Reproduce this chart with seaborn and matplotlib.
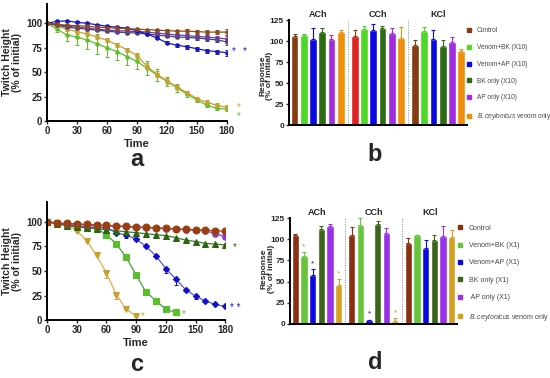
import numpy as np
import pandas as pd
import matplotlib
matplotlib.use("Agg")
import matplotlib.pyplot as plt
from matplotlib.lines import Line2D
from matplotlib.container import BarContainer
import seaborn as sns

sns.set_theme(style="white")
plt.rcParams['font.family'] = ['Liberation Sans', 'DejaVu Sans']
plt.rcParams['mathtext.fontset'] = 'custom'
plt.rcParams['mathtext.it'] = 'Liberation Sans:italic'
plt.rcParams['mathtext.rm'] = 'Liberation Sans'

# ---------------- data ----------------
time = [0, 10, 20, 30, 40, 50, 60, 70, 80, 90, 100, 110, 120, 130, 140, 150, 160, 170, 180]

# panel a (X10)
a_control = [100, 99, 98, 97.5, 97, 96, 95.5, 95, 94.5, 94, 93.5, 93, 92.5, 92, 92, 91.5, 91, 91, 91]
a_ap_only = [100, 99, 97, 96, 95, 94, 93, 92.5, 92, 91.5, 91, 90, 89, 88, 87.5, 86.5, 86, 85, 84]
a_bk_only = [100, 98, 96, 95, 94, 93, 92, 91, 90.5, 90, 89, 88, 87, 86, 85.5, 85, 84, 83, 81]
a_venom_ap = [100, 102, 102.5, 101, 100, 98.5, 97, 96, 95, 92.5, 89, 85, 80, 77.5, 76, 74, 72, 71, 70]
a_venom_bk = [100, 94, 88, 86, 83, 79, 75, 71, 66, 61, 54, 47, 40.5, 34, 27.5, 21.5, 16, 13, 12]
a_venom_bk_err = [0, 3, 6, 8, 9, 10, 10, 9, 9, 8, 7, 6, 5, 4, 3, 2, 2, 2, 2]
a_venom_only = [100, 97, 94, 91.5, 89, 86, 82.5, 78, 73, 67, 56, 48, 41, 35, 29, 23, 19, 16, 14]
a_venom_only_err = [0, 1, 2, 2, 2, 2, 2, 2, 2, 3, 3, 3, 3, 2, 2, 2, 2, 2, 2]
a_small_err = [0, 1, 1, 1, 1, 1, 1, 1, 1, 1, 1, 1, 1.5, 1.5, 2, 2, 2, 2, 3]

# panel c (X1)
c_control = [100, 99, 98.5, 98, 97.5, 97, 96.5, 96, 95.5, 95, 94.5, 94, 93.5, 93, 92.5, 92, 91.5, 91, 90.5]
c_ap_only = [100, 99, 98, 97.5, 97, 96.5, 96, 95.5, 95, 94.5, 94, 93.5, 93, 92.5, 92, 91.5, 91, 88, 85]
c_bk_only = [100, 98, 96, 95, 94, 93, 92, 91, 90, 89, 88, 87, 86, 84, 81.5, 80, 78, 77.5, 76.5]
c_venom_ap = [100, 98.5, 97, 96, 95, 94.5, 94, 89, 86.5, 82.5, 75, 65.5, 52.5, 42, 31, 24.5, 19.5, 16, 14]
c_venom_ap_err = [0, 0, 0, 0, 0, 0, 0, 1, 2.5, 1, 1, 1.5, 4, 6, 1, 3, 1, 1, 1]
c_venom_bk = [100, 98.5, 96.5, 95, 94.5, 93.5, 87, 77.5, 64, 46, 28.5, 20, 11, 8]
c_venom_bk_err = [0, 0, 0, 1, 1, 1, 1, 1, 1, 1, 3, 1, 1, 1]
c_venom_only = [100, 99, 97, 91, 81, 66, 48, 26, 11, 4.5]
c_venom_only_err = [0, 0, 0, 1, 1, 1, 5, 4, 1, 1]

# bar panels
groups = ["ACh", "CCh", "KCl"]
b_labels = ["Control", "Venom+BK (X10)", "Venom+AP (X10)", "BK only (X10)", "AP only (X10)",
            r"$\mathit{B.ceylonicus}$ venom only"]
d_labels = ["Control", "Venom+BK (X1)", "Venom+AP (X1)", "BK only (X1)", " AP only (X1)",
            r"$\mathit{B.ceylonicus}$ venom only"]
# values[treatment][group]
b_values = [[106, 105.6, 95.7], [107.6, 114, 112.3], [102.8, 113.5, 102.8],
            [110.8, 115.5, 94], [102.8, 110, 98.5], [110.8, 103.6, 87.8]]
b_errors = [[2.5, 8, 6], [1, 3.5, 4.4], [12.7, 7, 10], [4.7, 2.5, 7.7], [4, 6, 6.3], [2, 13, 2.2]]
d_values = [[105.3, 105.3, 95.4], [79.7, 116.3, 104.5], [58, 4.7, 89.5],
            [112, 118, 99.4], [116, 108, 104], [45.7, 3.5, 103]]
d_errors = [[1.5, 8.7, 5.6], [4.7, 8.7, 0.8], [7, 0.5, 10], [4, 3, 5.9], [2.5, 5, 12], [7, 3.2, 8]]
d_stars = [[False, False, False], [True, False, False], [True, True, False],
           [False, False, False], [False, False, False], [True, True, False]]

col_b = ["#843c12", "#4ed62a", "#0a0ae0", "#2d6a14", "#a02ce0", "#ee8e0b"]
col_d = ["#8a3010", "#66c43a", "#0a0ae0", "#3b6418", "#9a30e8", "#d4a020"]

fig = plt.figure(figsize=(5.5, 3.78), dpi=100)


def style_line_axes(ax):
    ax.set_xlim(0, 180)
    ax.set_ylim(0, 120)
    ax.set_xticks([0, 30, 60, 90, 120, 150, 180])
    ax.set_yticks([0, 25, 50, 75, 100])
    for s in ["top", "right"]:
        ax.spines[s].set_visible(False)
    for s in ["left", "bottom"]:
        ax.spines[s].set_color("black")
        ax.spines[s].set_linewidth(1.4)
    ax.tick_params(axis="both", labelsize=7, length=2.5, width=1, pad=1, direction="out",
                   left=True, bottom=True)
    for lab in ax.get_xticklabels() + ax.get_yticklabels():
        lab.set_fontweight("bold")
    ax.set_xlabel("Time", fontsize=8, fontweight="bold", labelpad=2)
    ax.set_ylabel("Twitch Height\n(% of initial)", fontsize=7.5, fontweight="bold", labelpad=3,
                  linespacing=1.0)
    ax.set_facecolor("white")


def series(ax, x, y, color, marker, ms, err=None, lcolor=None, lower=True, upper=True):
    sns.lineplot(x=x, y=y, ax=ax, color=lcolor or color, marker=marker, markersize=ms,
                 markerfacecolor=color, markeredgecolor=color, linewidth=0.9, legend=False,
                 errorbar=None)
    if err is not None:
        e = np.array(err, dtype=float)
        lo = e if lower else np.zeros_like(e)
        hi = e if upper else np.zeros_like(e)
        ax.errorbar(x, y, yerr=[lo, hi], fmt="none", ecolor=color, elinewidth=0.7,
                    capsize=1.5, capthick=0.7)


# ---------------- panel a ----------------
axa = fig.add_axes([0.0855, 0.680, 0.327, 0.310])
series(axa, time, a_venom_bk, "#5cbf2a", "o", 2.5, a_venom_bk_err)
series(axa, time, a_venom_only, "#c9a030", "o", 2.5, a_venom_only_err)
series(axa, time, a_bk_only, "#3c4a5e", "o", 2.5, a_small_err)
series(axa, time, a_ap_only, "#6b3aa8", "o", 2.5, a_small_err)
series(axa, time, a_venom_ap, "#1818c8", "o", 2.5, a_small_err)
series(axa, time, a_control, "#8e4a18", "o", 2.5, a_small_err)
style_line_axes(axa)
axa.text(187, 72, "*", color="#1818c8", fontsize=7, ha="center", va="center", clip_on=False)
axa.text(198, 72, "*", color="#1818c8", fontsize=7, ha="center", va="center", clip_on=False)
axa.text(192, 14, "*", color="#c9a030", fontsize=7, ha="center", va="center", clip_on=False)
axa.text(192, 5, "*", color="#5cbf2a", fontsize=7, ha="center", va="center", clip_on=False)

# ---------------- panel c ----------------
axc = fig.add_axes([0.0855, 0.153, 0.324, 0.312])
series(axc, time[:10], c_venom_only, "#c9a030", "v", 4.5, c_venom_only_err, lcolor="#d8b050",
       upper=False)
series(axc, time[:14], c_venom_bk, "#58c02c", "s", 5, c_venom_bk_err, lcolor="#4a9a40",
       upper=False)
series(axc, time, c_venom_ap, "#1010c8", "D", 3.2, c_venom_ap_err, lcolor="#5a5ad0",
       upper=False)
series(axc, time, c_bk_only, "#2d6414", "^", 4, None, lcolor="#3c7a2a")
series(axc, time, c_ap_only, "#8a3ae0", "o", 4, [0] * 17 + [2, 1])
series(axc, time, c_control, "#9a4010", "o", 5, None, lcolor="#d03a2a")
style_line_axes(axc)
axc.text(97, 4, "*", color="#c9a030", fontsize=7, ha="center", va="center", clip_on=False)
axc.text(138, 6, "*", color="#58c02c", fontsize=7, ha="center", va="center", clip_on=False)
axc.text(190, 12, "* *", color="#1010c8", fontsize=7, ha="center", va="center", clip_on=False)
axc.text(190, 74, "*", color="#2d6414", fontsize=7, ha="center", va="center", clip_on=False)


# ---------------- bar panels ----------------
def bar_panel(rect, labels, values, errors, colors, stars, legend_anchor, ylabel_x, lfs):
    ax = fig.add_axes(rect)
    rows = []
    for ti, lab in enumerate(labels):
        for gi, g in enumerate(groups):
            rows.append({"group": g, "treatment": lab, "value": values[ti][gi]})
    df = pd.DataFrame(rows)
    sns.barplot(data=df, x="group", y="value", hue="treatment", hue_order=labels,
                palette=colors, width=0.92, gap=0.15, errorbar=None, legend=False,
                saturation=1, ax=ax)
    bar_conts = [c for c in ax.containers if isinstance(c, BarContainer)]
    for ti, cont in enumerate(bar_conts):
        xs = [p.get_x() + p.get_width() / 2 for p in cont.patches]
        ys = [p.get_height() for p in cont.patches]
        e = np.array(errors[ti])
        ax.errorbar(xs, ys, yerr=[np.zeros_like(e), e], fmt="none", ecolor=colors[ti],
                    elinewidth=0.8, capsize=1.5, capthick=0.8)
        if stars is not None:
            for gi in range(3):
                if stars[ti][gi]:
                    ax.text(xs[gi], ys[gi] + e[gi] + 2, "*", color=colors[ti], fontsize=6,
                            ha="center", va="bottom")
    ax.set_xlim(-0.48, 2.48)
    ax.set_ylim(0, 125)
    ax.set_yticks([0, 25, 50, 75, 100, 125])
    ax.set_xticks([])
    ax.set_xlabel("")
    ax.set_ylabel("")
    for s in ["top", "right"]:
        ax.spines[s].set_visible(False)
    for s in ["left", "bottom"]:
        ax.spines[s].set_color("black")
        ax.spines[s].set_linewidth(1.4)
    ax.tick_params(axis="y", labelsize=6, length=2.5, width=1, pad=1, left=True)
    for lab in ax.get_yticklabels():
        lab.set_fontweight("bold")
    for xv in [0.5, 1.5]:
        ax.axvline(xv, color="#888888", linestyle=(0, (1, 1.5)), linewidth=0.7)
    for gi, g in enumerate(groups):
        ax.text(gi, 1.01, g, transform=ax.get_xaxis_transform(), ha="center", va="bottom",
                fontsize=6.5, fontweight="bold")
    ax.set_facecolor("white")
    handles = [Line2D([], [], linestyle="none", marker="s", markersize=2.2, color=c) for c in colors]
    ax.legend(handles, labels, loc="upper left", bbox_to_anchor=legend_anchor,
              bbox_transform=fig.transFigure, frameon=False, labelspacing=1.5,
              handlelength=0.6, handletextpad=0.9, borderpad=0, borderaxespad=0,
              labelcolor="#444444", prop={"weight": "normal", "size": lfs})
    fig.text(ylabel_x[0], ylabel_x[1], "Response\n(% of initial)", rotation=90, ha="center",
             va="center", fontsize=6, fontweight="bold", linespacing=1.0)
    return ax, bar_conts


axb, conts_b = bar_panel([0.525, 0.669, 0.324, 0.278], b_labels, b_values, b_errors, col_b, None,
                         (0.849, 0.928), (0.484, 0.80), 4.7)
# control bar of CCh in panel b is red in the reference
conts_b[0].patches[1].set_facecolor("#dd2222")

axd, conts_d = bar_panel([0.527, 0.143, 0.304, 0.280], d_labels, d_values, d_errors, col_d, d_stars,
                         (0.833, 0.406), (0.487, 0.29), 5)

# panel letters
fig.text(0.249, 0.577, "a", fontsize=17, fontweight="bold", ha="center", va="center")
fig.text(0.682, 0.590, "b", fontsize=17, fontweight="bold", ha="center", va="center")
fig.text(0.249, 0.035, "c", fontsize=17, fontweight="bold", ha="center", va="center")
fig.text(0.682, 0.040, "d", fontsize=17, fontweight="bold", ha="center", va="center")

fig.savefig("out.png", dpi=100, facecolor="white")
